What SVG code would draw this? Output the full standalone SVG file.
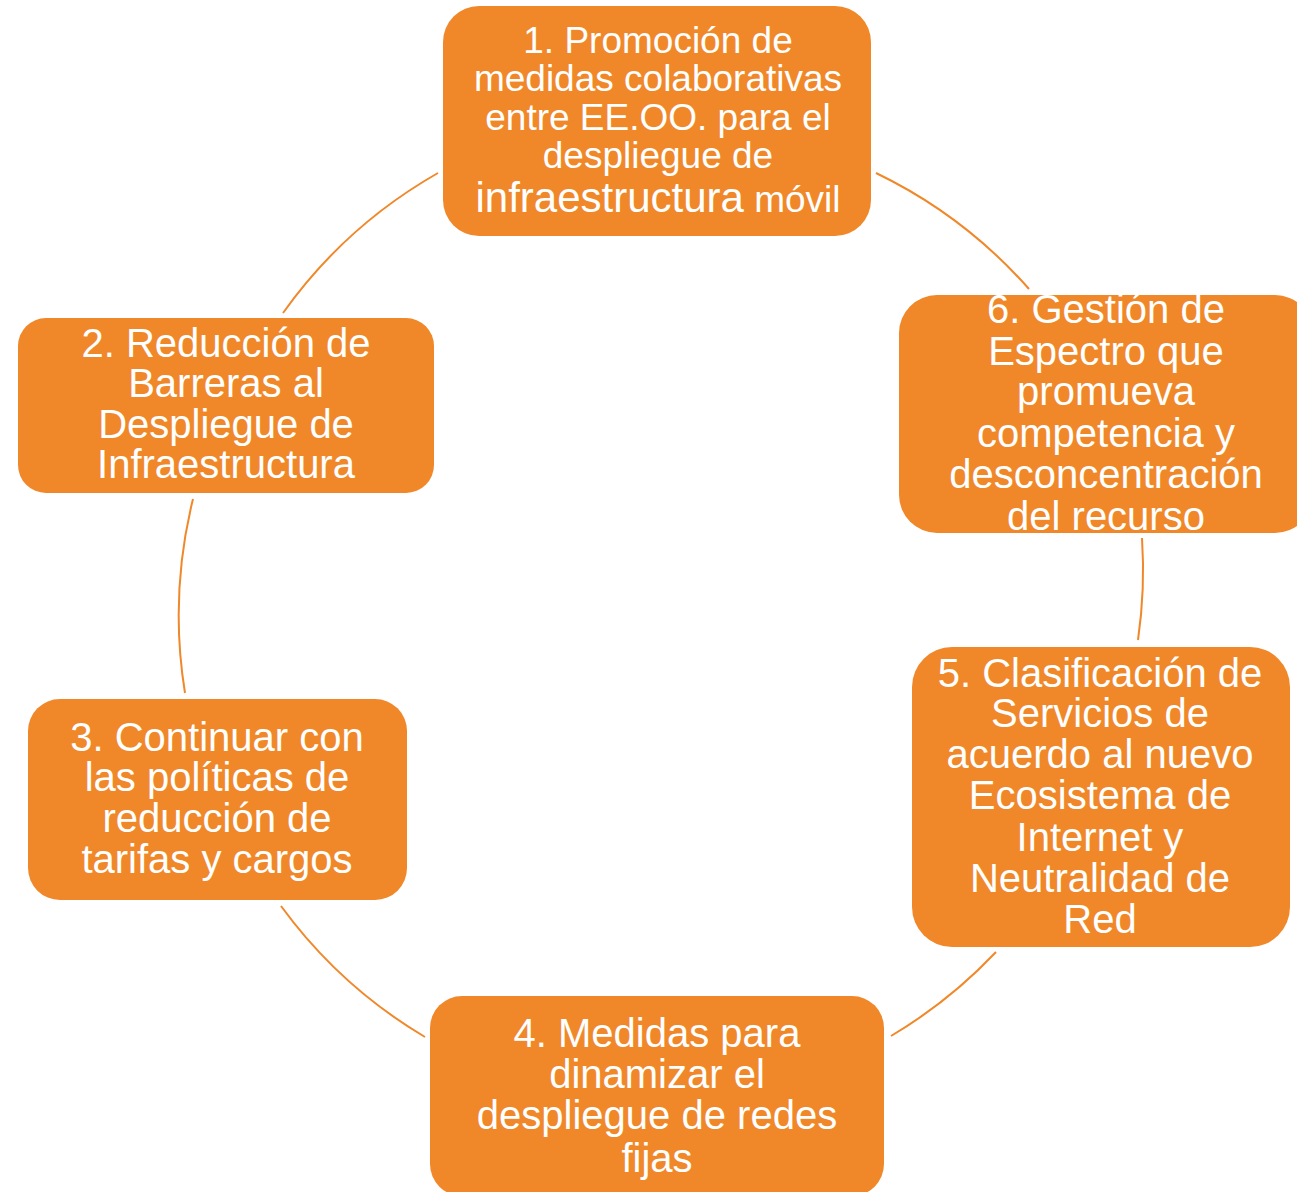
<svg xmlns="http://www.w3.org/2000/svg" width="1297" height="1192" viewBox="0 0 1297 1192">
<style>
.box{fill:#F0882A;}
.t{fill:#ffffff;font-family:"Liberation Sans",Arial,sans-serif;font-size:40px;text-anchor:middle;}
.t1{font-size:37px;}
.conn{fill:none;stroke:#F0882A;stroke-width:2;}
</style>
<rect width="1297" height="1192" fill="#ffffff"/>
<g id="connectors">
<path class="conn" d="M876,173 A484,484 0 0 1 1029,289"/>
<path class="conn" d="M1142,538 A484,484 0 0 1 1138,640"/>
<path class="conn" d="M996,952 A484,484 0 0 1 891,1036"/>
<path class="conn" d="M425,1037 A484,484 0 0 1 281,906"/>
<path class="conn" d="M185,693 A484,484 0 0 1 193,499"/>
<path class="conn" d="M283,313 A484,484 0 0 1 438,173"/>
</g>
<g id="node1">
<rect class="box" x="443" y="6" width="428" height="230" rx="36"/>
<text class="t t1" x="658"><tspan x="658" y="53">1. Promoción de</tspan><tspan x="658" y="91">medidas colaborativas</tspan><tspan x="658" y="130">entre EE.OO. para el</tspan><tspan x="658" y="168">despliegue de</tspan><tspan x="658" y="212"><tspan font-size="42">infraestructura</tspan> móvil</tspan></text>
</g>
<g id="node2">
<rect class="box" x="18" y="318" width="416" height="175" rx="28"/>
<text class="t"><tspan x="226" y="357">2. Reducción de</tspan><tspan x="226" y="397">Barreras al</tspan><tspan x="226" y="438">Despliegue de</tspan><tspan x="226" y="478">Infraestructura</tspan></text>
</g>
<g id="node3">
<rect class="box" x="28" y="699" width="379" height="201" rx="32"/>
<text class="t"><tspan x="217" y="751">3. Continuar con</tspan><tspan x="217" y="791">las políticas de</tspan><tspan x="217" y="832">reducción de</tspan><tspan x="217" y="873">tarifas y cargos</tspan></text>
</g>
<g id="node4">
<rect class="box" x="430" y="996" width="454" height="200" rx="32"/>
<text class="t"><tspan x="657" y="1047">4. Medidas para</tspan><tspan x="657" y="1088">dinamizar el</tspan><tspan x="657" y="1129">despliegue de redes</tspan><tspan x="657" y="1172">fijas</tspan></text>
</g>
<g id="node5">
<rect class="box" x="912" y="647" width="378" height="300" rx="40"/>
<text class="t"><tspan x="1100" y="687">5. Clasificación de</tspan><tspan x="1100" y="727">Servicios de</tspan><tspan x="1100" y="768">acuerdo al nuevo</tspan><tspan x="1100" y="809">Ecosistema de</tspan><tspan x="1100" y="851">Internet y</tspan><tspan x="1100" y="892">Neutralidad de</tspan><tspan x="1100" y="933">Red</tspan></text>
</g>
<g id="node6">
<rect class="box" x="899" y="295" width="414" height="238" rx="38"/>
<text class="t"><tspan x="1106" y="323">6. Gestión de</tspan><tspan x="1106" y="365">Espectro que</tspan><tspan x="1106" y="405">promueva</tspan><tspan x="1106" y="447">competencia y</tspan><tspan x="1106" y="488">desconcentración</tspan><tspan x="1106" y="530">del recurso</tspan></text>
</g>
</svg>
